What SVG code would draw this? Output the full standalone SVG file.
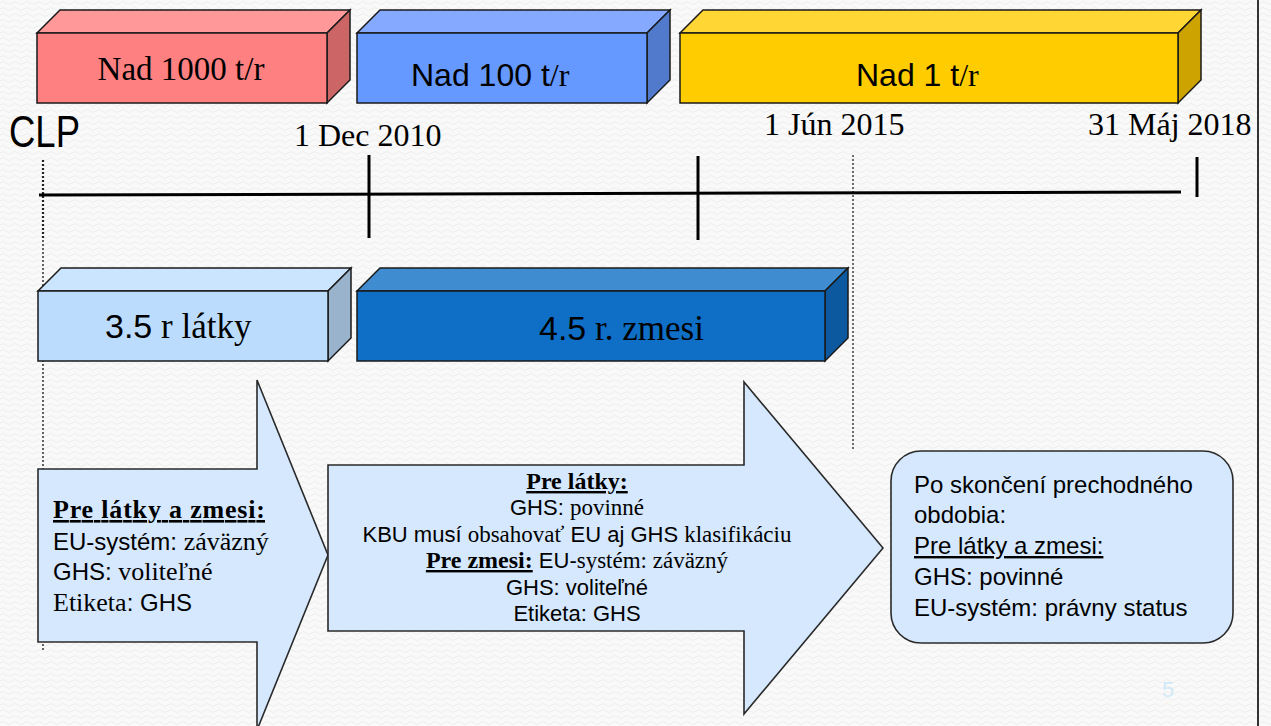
<svg xmlns="http://www.w3.org/2000/svg" width="1271" height="726" viewBox="0 0 1271 726">
  <defs>
    <pattern id="bgwave" width="12" height="6" patternUnits="userSpaceOnUse">
      <rect width="12" height="6" fill="#f9f9f9"/>
      <path d="M0 3 Q3 0 6 3 T12 3" fill="none" stroke="#eeeeee" stroke-width="1"/>
    </pattern>
    <style>
      .edge { stroke: #1a1a1a; stroke-width: 1.5; stroke-linejoin: miter; }
      .arrow { fill: #d5e8fe; stroke: #2a2a2a; stroke-width: 1.6; }
      .serif { font-family: "Liberation Serif", "Times New Roman", serif; fill: #000; }
      .sans { font-family: "Liberation Sans", Arial, sans-serif; fill: #000; }
      .bold { font-weight: bold; }
      .ul { text-decoration: underline; }
      .tick { stroke: #000; stroke-width: 3; fill: none; }
      .dots { stroke: #222; fill: none; stroke-dasharray: 2 2; }
    </style>
  </defs>

  <rect width="1271" height="726" fill="url(#bgwave)"/>
  <line x1="1258" y1="0" x2="1258" y2="726" stroke="#333" stroke-width="2"/>

  <g id="connectors">
    <line class="dots" x1="43" y1="160" x2="43" y2="240" stroke-width="2.2"/>
    <line class="dots" x1="43" y1="240" x2="43" y2="650" stroke-width="1.4"/>
    <line class="dots" x1="853" y1="155" x2="853" y2="450" stroke-width="1.3"/>
    <line class="tick" x1="39" y1="195" x2="1181" y2="192"/>
    <line class="tick" x1="369" y1="155" x2="369" y2="238"/>
    <line class="tick" x1="698" y1="156" x2="698" y2="240"/>
    <line class="tick" x1="1197" y1="157" x2="1197" y2="197"/>
  </g>

  <g id="box-nad1000">
    <polygon class="edge" points="37,33 60,10 350,10 327,33" fill="#ff9999"/>
    <polygon class="edge" points="327,33 350,10 350,80 327,103" fill="#cc6666"/>
    <rect class="edge" x="37" y="33" width="290" height="70" fill="#ff8080"/>
    <text class="serif" x="181" y="80" font-size="33" text-anchor="middle">Nad 1000 t/r</text>
  </g>

  <g id="box-nad100">
    <polygon class="edge" points="357,33 380,10 670,10 647,33" fill="#85a9ff"/>
    <polygon class="edge" points="647,33 670,10 670,80 647,103" fill="#527acc"/>
    <rect class="edge" x="357" y="33" width="290" height="70" fill="#6699ff"/>
    <text x="411" y="86" font-size="32"><tspan class="sans">Nad 100 t</tspan><tspan class="serif">/r</tspan></text>
  </g>

  <g id="box-nad1">
    <polygon class="edge" points="680,33 703,10 1201,10 1178,33" fill="#ffd633"/>
    <polygon class="edge" points="1178,33 1201,10 1201,80 1178,103" fill="#cca300"/>
    <rect class="edge" x="680" y="33" width="498" height="70" fill="#ffcc00"/>
    <text x="856" y="86" font-size="32"><tspan class="sans">Nad 1 t</tspan><tspan class="serif">/r</tspan></text>
  </g>

  <g id="labels-dates">
    <text class="sans" x="9" y="147" font-size="44" textLength="71" lengthAdjust="spacingAndGlyphs">CLP</text>
    <text class="serif" x="294" y="146" font-size="32">1 Dec 2010</text>
    <text class="serif" x="764" y="135" font-size="32">1 Jún 2015</text>
    <text class="serif" x="1088" y="135" font-size="32">31 Máj 2018</text>
  </g>

  <g id="box-latky">
    <polygon class="edge" points="38,291 61,268 351,268 328,291" fill="#cce5ff"/>
    <polygon class="edge" points="328,291 351,268 351,338 328,361" fill="#99b3cc"/>
    <rect class="edge" x="38" y="291" width="290" height="70" fill="#bbdcfc"/>
    <text x="105" y="338" font-size="34"><tspan class="sans">3.5</tspan><tspan class="serif" font-size="35"> r látky</tspan></text>
  </g>

  <g id="box-zmesi">
    <polygon class="edge" points="357,291 380,268 848,268 825,291" fill="#3f8cd1"/>
    <polygon class="edge" points="825,291 848,268 848,338 825,361" fill="#0c59a0"/>
    <rect class="edge" x="357" y="291" width="468" height="70" fill="#0f6fc6"/>
    <text x="539" y="340" font-size="34"><tspan class="sans">4.5</tspan><tspan class="serif" font-size="35"> r. zmesi</tspan></text>
  </g>

  <g id="arrow-1">
    <polygon class="arrow" points="38,469 257,469 257,380 328,555 257,730 257,642 38,642"/>
    <text class="serif bold ul" x="53" y="518" font-size="26" textLength="212">Pre látky a zmesi:</text>
    <text x="53" y="550" font-size="24"><tspan class="sans">EU-systém: </tspan><tspan class="serif" font-size="26">záväzný</tspan></text>
    <text x="53" y="580" font-size="24"><tspan class="sans">GHS: </tspan><tspan class="serif" font-size="26">voliteľné</tspan></text>
    <text x="53" y="611" font-size="24"><tspan class="serif" font-size="26">Etiketa</tspan><tspan class="sans">: GHS</tspan></text>
  </g>

  <g id="arrow-2">
    <polygon class="arrow" points="328,465 744,465 744,382 883,548 744,714 744,631 328,631"/>
    <text class="serif bold ul" x="577" y="489" font-size="24" text-anchor="middle">Pre látky:</text>
    <text x="577" y="515" font-size="22" text-anchor="middle"><tspan class="sans">GHS: </tspan><tspan class="serif" font-size="23">povinné</tspan></text>
    <text x="577" y="542" font-size="22" text-anchor="middle"><tspan class="sans">KBU musí </tspan><tspan class="serif" font-size="23">obsahovať</tspan><tspan class="sans"> EU aj GHS </tspan><tspan class="serif" font-size="23">klasifikáciu</tspan></text>
    <text x="577" y="568" font-size="22" text-anchor="middle"><tspan class="serif bold ul" font-size="24">Pre zmesi:</tspan><tspan class="sans"> EU-</tspan><tspan class="serif" font-size="23">systém: záväzný</tspan></text>
    <text class="sans" x="577" y="595" font-size="22" text-anchor="middle">GHS: voliteľné</text>
    <text class="sans" x="577" y="621" font-size="22" text-anchor="middle">Etiketa: GHS</text>
  </g>

  <g id="box-po-skonceni">
    <rect x="891" y="451" width="342" height="192" rx="30" ry="30" fill="#d5e8fe" stroke="#2a2a2a" stroke-width="1.6"/>
    <text class="sans" x="914" y="493" font-size="24">Po skončení prechodného</text>
    <text class="sans" x="914" y="523" font-size="24">obdobia:</text>
    <text class="sans ul" x="914" y="554" font-size="24">Pre látky a zmesi:</text>
    <text class="sans" x="914" y="585" font-size="24">GHS: povinné</text>
    <text class="sans" x="914" y="616" font-size="24">EU-systém: právny status</text>
  </g>

  <text x="1162" y="697" font-family="Liberation Sans, Arial, sans-serif" font-size="22" fill="#d3e9f8">5</text>
</svg>
